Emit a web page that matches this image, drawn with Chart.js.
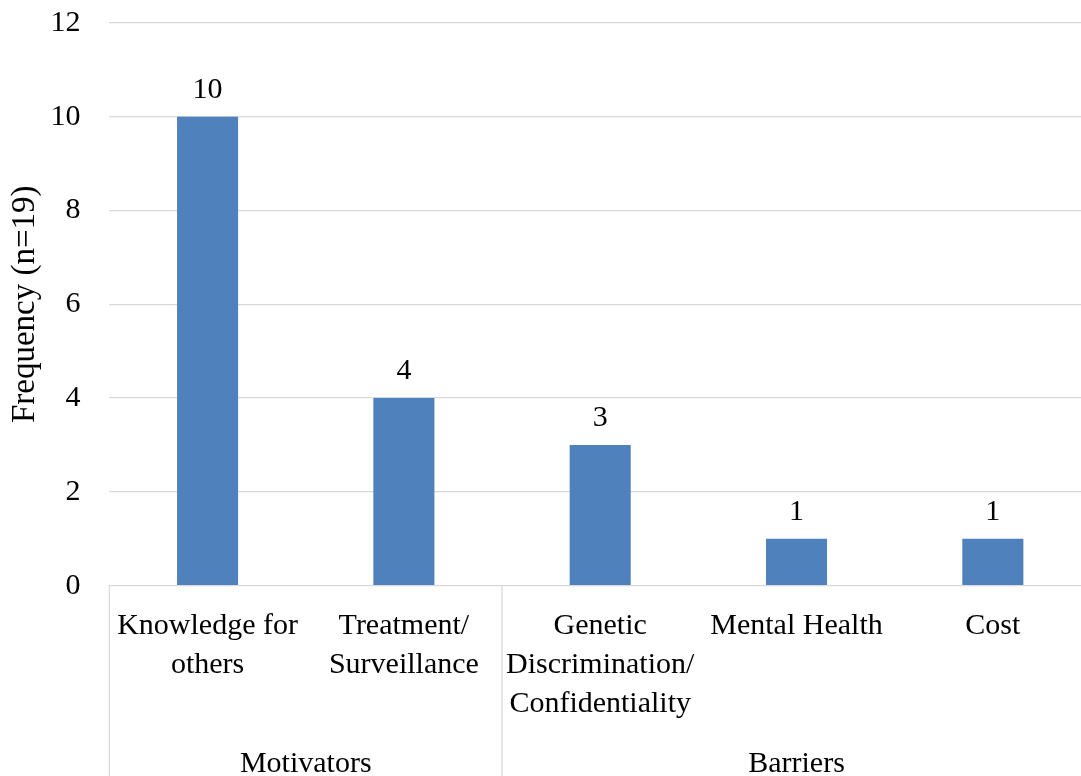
<!DOCTYPE html>
<html>
<head>
<meta charset="utf-8">
<script src="https://cdn.jsdelivr.net/npm/chart.js@4/dist/chart.umd.min.js"></script>
<style>
  html, body { margin: 0; padding: 0; background: #fff; overflow: hidden; }
  canvas { display: block; }
</style>
</head>
<body>
<canvas id="c" width="1091" height="776"></canvas>
<script>
// ---- data ----
const categories = [
  ["Knowledge for", "others"],
  ["Treatment/", "Surveillance"],
  ["Genetic", "Discrimination/", "Confidentiality"],
  ["Mental Health"],
  ["Cost"]
];
const frequency = [10, 4, 3, 1, 1];
const groupNames = ["Motivators", "Barriers"];
const groupSizes = [2, 3];
const yTicks = [0, 2, 4, 6, 8, 10, 12];
const yTitle = "Frequency (n=19)";

const FONT = "'Liberation Serif', 'Times New Roman', serif";
const GRID = "#d9d9d9";

const valueLabels = {
  id: 'valueLabels',
  afterDatasetsDraw(chart) {
    const ctx = chart.ctx;
    const meta = chart.getDatasetMeta(0);
    ctx.save();
    ctx.font = "30px " + FONT;
    ctx.fillStyle = "#000";
    ctx.textAlign = "center";
    ctx.textBaseline = "alphabetic";
    meta.data.forEach((bar, i) => {
      ctx.fillText(String(frequency[i]), bar.x, bar.y - 19);
    });
    ctx.restore();
  }
};

const groupAxis = {
  id: 'groupAxis',
  afterDraw(chart) {
    const ctx = chart.ctx;
    const xs = chart.scales.x;
    const area = chart.chartArea;
    const step = xs.width / categories.length;
    ctx.save();
    ctx.strokeStyle = GRID;
    ctx.lineWidth = 1.3;
    ctx.font = "30px " + FONT;
    ctx.fillStyle = "#000";
    ctx.textAlign = "center";
    ctx.textBaseline = "alphabetic";
    let start = 0;
    groupNames.forEach((name, g) => {
      const x0 = xs.getPixelForValue(start) - step / 2;
      const x1 = xs.getPixelForValue(start + groupSizes[g] - 1) + step / 2;
      ctx.beginPath();
      ctx.moveTo(x0, area.bottom);
      ctx.lineTo(x0, chart.height);
      ctx.stroke();
      ctx.fillText(name, (x0 + x1) / 2, 772);
      start += groupSizes[g];
    });
    ctx.restore();
  }
};

new Chart(document.getElementById('c'), {
  type: 'bar',
  data: {
    labels: categories,
    datasets: [{
      data: frequency,
      backgroundColor: '#4f81bd',
      borderWidth: 0,
      barPercentage: 0.311,
      categoryPercentage: 1.0
    }]
  },
  options: {
    responsive: false,
    animation: false,
    layout: { padding: { top: 22.9, right: 0, left: 0, bottom: 0 } },
    plugins: { legend: { display: false }, tooltip: { enabled: false } },
    scales: {
      x: {
        grid: { display: false, drawTicks: false },
        border: { display: false },
        ticks: {
          autoSkip: false, maxRotation: 0, minRotation: 0,
          padding: 21, color: '#000',
          font: { family: FONT, size: 30, lineHeight: 1.3 }
        },
        afterFit(s) {
          s.height = 190.3;
          s.paddingTop = 0; s.paddingBottom = 0;
          s.paddingLeft = 0; s.paddingRight = 0;
        }
      },
      y: {
        min: 0, max: 12,
        afterBuildTicks(s) { s.ticks = yTicks.map(v => ({ value: v })); },
        grid: { color: GRID, lineWidth: 1.3, drawTicks: false },
        border: { display: false },
        ticks: {
          padding: 29, color: '#000',
          font: { family: FONT, size: 30 }
        },
        title: {
          display: true, text: yTitle, color: '#000',
          font: { family: FONT, size: 33 },
          padding: { top: 6, bottom: 0 }
        },
        afterFit(s) {
          s.width = 109.4;
          s.paddingTop = 0; s.paddingBottom = 0;
        }
      }
    }
  },
  plugins: [valueLabels, groupAxis]
});
</script>
</body>
</html>
